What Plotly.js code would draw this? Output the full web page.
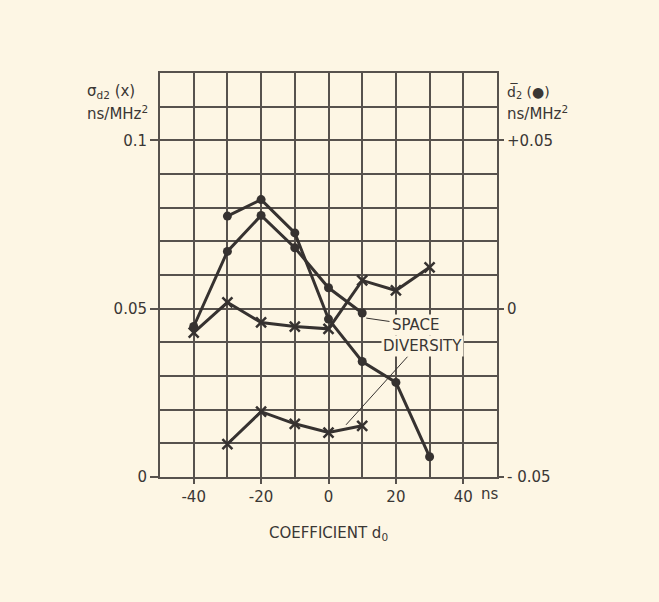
<!DOCTYPE html>
<html>
<head>
<meta charset="utf-8">
<script src="https://cdn.plot.ly/plotly-3.0.1.min.js"></script>
<style>html,body{margin:0;padding:0;background:#fdf6e4;}</style>
</head>
<body>
<div id="chart" style="width:659px;height:602px;"></div>
<script>
// Coefficient d0 (ns)
const delayMain = [-40, -30, -20, -10, 0, 10, 20, 30];
const delaySpace = [-30, -20, -10, 0, 10];
const delayDotA = [-30, -20, -10, 0, 10, 20, 30];
const delayDotB = [-40, -30, -20, -10, 0, 10];

// sigma_d2 (x), ns/MHz^2, left axis
const sigmaMain = [0.0429, 0.0519, 0.0459, 0.0447, 0.0440, 0.0584, 0.0554, 0.0623];
const sigmaSpace = [0.0098, 0.0194, 0.0158, 0.0132, 0.0152];

// mean d2 (dots), ns/MHz^2, right axis
const meanA = [0.0275, 0.0324, 0.0225, -0.0031, -0.0157, -0.0219, -0.0440];
const meanB = [-0.0053, 0.0170, 0.0277, 0.0181, 0.0062, -0.0013];

const xTickVals = [-40, -20, 0, 20, 40];
const xTickText = ["\u201140", "\u201120", "0", "20", "40"];
const yLeftVals = [0, 0.05, 0.1];
const yLeftText = ["0", "0.05", "0.1"];
const yRightVals = [-0.05, 0, 0.05];
const yRightText = ["\u2011 0.05", "0", "+0.05"];

const ink = '#363230';
const bg = '#fdf6e4';
const fnt = {family: 'DejaVu Sans, sans-serif', size: 14, color: '#3a3734'};

const lineStyle = {color: ink, width: 3};
const traces = [
  {x: delayMain, y: sigmaMain, mode: 'lines+markers', line: lineStyle,
   marker: {symbol: 'x-thin-open', size: 10, line: {color: ink, width: 2.5}}, yaxis: 'y'},
  {x: delaySpace, y: sigmaSpace, mode: 'lines+markers', line: lineStyle,
   marker: {symbol: 'x-thin-open', size: 10, line: {color: ink, width: 2.5}}, yaxis: 'y'},
  {x: delayDotA, y: meanA, mode: 'lines+markers', line: lineStyle,
   marker: {symbol: 'circle', size: 9, color: ink}, yaxis: 'y2'},
  {x: delayDotB, y: meanB, mode: 'lines+markers', line: lineStyle,
   marker: {symbol: 'circle', size: 9, color: ink}, yaxis: 'y2'}
];

const gridC = '#57524d';
const layout = {
  width: 659, height: 602,
  margin: {l: 160, r: 162, t: 73, b: 125},
  paper_bgcolor: bg, plot_bgcolor: bg,
  showlegend: false,
  font: fnt,
  xaxis: {
    range: [-50, 50], tickvals: xTickVals, ticktext: xTickText,
    ticks: 'outside', ticklen: 5, tickcolor: gridC, tickwidth: 2,
    showgrid: false,
    minor: {dtick: 10, tick0: 0, showgrid: true, gridcolor: gridC, gridwidth: 2, ticks: ''},
    showline: true, linecolor: gridC, linewidth: 2, mirror: true,
    zeroline: false, tickfont: {size: 15}, fixedrange: true,
    title: {text: 'COEFFICIENT d<sub>0</sub>', font: {size: 15}, standoff: 22}
  },
  yaxis: {
    range: [0, 0.12], tickvals: yLeftVals, ticktext: yLeftText,
    ticks: 'outside', ticklen: 8, tickcolor: gridC, tickwidth: 2,
    showgrid: false,
    minor: {dtick: 0.01, tick0: 0, showgrid: true, gridcolor: gridC, gridwidth: 2, ticks: ''},
    showline: true, linecolor: gridC, linewidth: 2, mirror: true,
    zeroline: false, tickfont: {size: 15}, fixedrange: true
  },
  yaxis2: {
    range: [-0.05, 0.07], overlaying: 'y', side: 'right',
    tickvals: yRightVals, ticktext: yRightText,
    ticks: 'outside', ticklen: 6, tickcolor: gridC, tickwidth: 2,
    showgrid: false, zeroline: false, showline: false,
    tickfont: {size: 15}, fixedrange: true
  },
  shapes: [
    {type: 'line', xref: 'x', yref: 'y', x0: 11.2, y0: 0.0472, x1: 18.1, y1: 0.0462,
     line: {color: ink, width: 1}},
    {type: 'line', xref: 'x', yref: 'y', x0: 5.2, y0: 0.0155, x1: 23.5, y1: 0.0358,
     line: {color: ink, width: 1}}
  ],
  annotations: [
    {xref: 'x', yref: 'y', x: 26.0, y: 0.0452, text: 'SPACE', showarrow: false,
     font: {size: 15}, bgcolor: bg, borderpad: 1},
    {xref: 'x', yref: 'y', x: 28.0, y: 0.0388, text: 'DIVERSITY', showarrow: false,
     font: {size: 15}, bgcolor: bg, borderpad: 1},
    {xref: 'x', yref: 'paper', x: 48.0, y: -0.042, text: 'ns', showarrow: false,
     font: {size: 15}, yanchor: 'middle'},
    {xref: 'paper', yref: 'paper', x: -0.2226, y: 0.954, xanchor: 'left', yanchor: 'middle',
     text: '\u03c3<sub>d2</sub> (x)', showarrow: false, font: {size: 15}},
    {xref: 'paper', yref: 'paper', x: -0.2226, y: 0.900, xanchor: 'left', yanchor: 'middle',
     text: 'ns/MHz<sup>2</sup>', showarrow: false, font: {size: 15}},
    {xref: 'paper', yref: 'paper', x: 1.024, y: 0.954, xanchor: 'left', yanchor: 'middle',
     text: 'd\u0305<sub>2</sub> (\u25cf)', showarrow: false, font: {size: 14}},
    {xref: 'paper', yref: 'paper', x: 1.024, y: 0.900, xanchor: 'left', yanchor: 'middle',
     text: 'ns/MHz<sup>2</sup>', showarrow: false, font: {size: 15}}
  ]
};

Plotly.newPlot('chart', traces, layout, {displayModeBar: false, staticPlot: true});
</script>
</body>
</html>
